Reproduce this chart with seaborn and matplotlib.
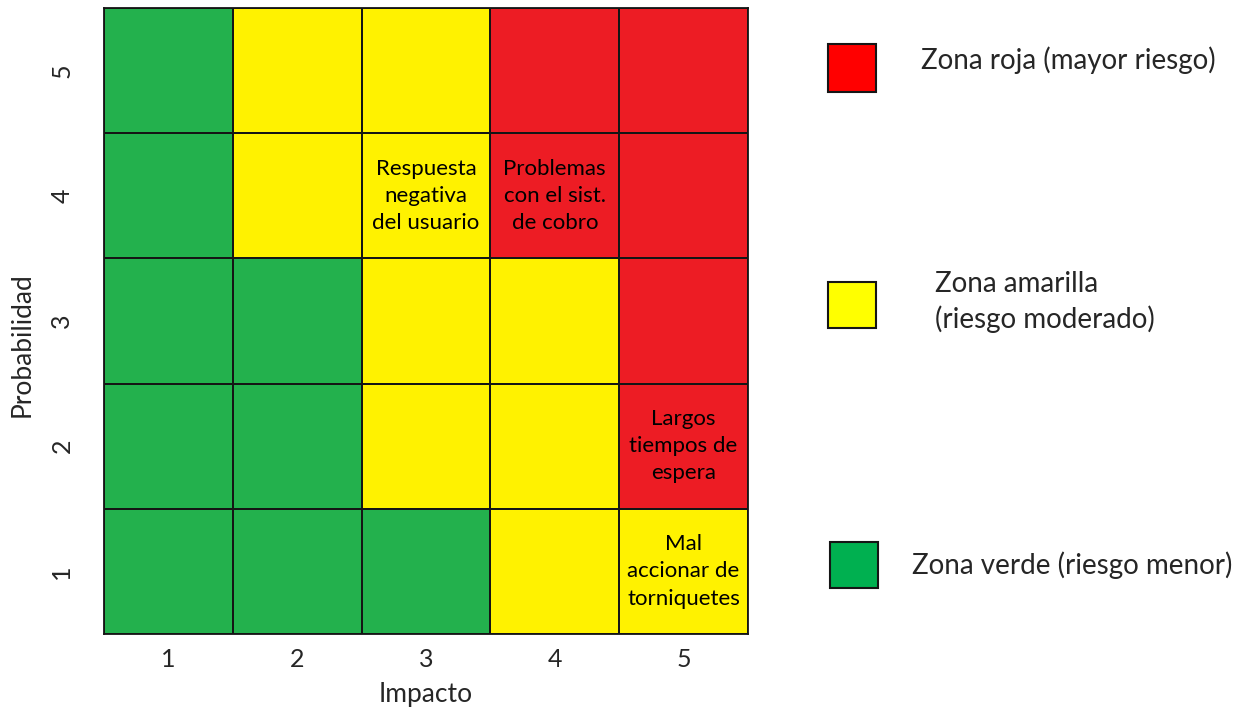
import numpy as np
import pandas as pd
import matplotlib
matplotlib.use("Agg")
import matplotlib.pyplot as plt
from matplotlib.colors import ListedColormap
from matplotlib.patches import Rectangle
import seaborn as sns

# Data
impacto = [1, 2, 3, 4, 5]
probabilidad = [5, 4, 3, 2, 1]  # top to bottom
# zone codes: 0 = verde, 1 = amarilla, 2 = roja
zona_p5 = [0, 1, 1, 2, 2]
zona_p4 = [0, 1, 1, 2, 2]
zona_p3 = [0, 0, 1, 1, 2]
zona_p2 = [0, 0, 1, 1, 2]
zona_p1 = [0, 0, 0, 1, 1]

riesgos = ["Respuesta\nnegativa\ndel usuario", "Problemas\ncon el sist.\nde cobro",
           "Largos\ntiempos de\nespera", "Mal\naccionar de\ntorniquetes"]
riesgo_impacto = [3, 4, 5, 5]
riesgo_prob = [4, 4, 2, 1]

leyenda_textos = ["Zona roja (mayor riesgo)", "Zona amarilla\n(riesgo moderado)", "Zona verde (riesgo menor)"]
leyenda_colores = ["#FF0000", "#FFFF00", "#00B050"]

cell_colors = ["#23B14D", "#FFF200", "#ED1C24"]

sns.set_style("white")
plt.rcParams['font.family'] = ['Lato', 'DejaVu Sans']

df = pd.DataFrame([zona_p5, zona_p4, zona_p3, zona_p2, zona_p1],
                  index=probabilidad, columns=impacto)

fig = plt.figure(figsize=(12.5, 7.09), dpi=100)
ax = fig.add_axes([104/1250, 1-634/709, (748-104)/1250, (634-8)/709])

sns.heatmap(df, ax=ax, cmap=ListedColormap(cell_colors), vmin=-0.5, vmax=2.5,
            cbar=False, linewidths=1.2, linecolor="#151515", square=False)

for spine in ax.spines.values():
    spine.set_visible(True)
    spine.set_color("#151515")
    spine.set_linewidth(1.3)

ax.tick_params(axis='both', length=0, labelsize=18)
ax.tick_params(axis='x', pad=10)
ax.tick_params(axis='y', pad=22)
ax.set_xticklabels([str(v) for v in impacto], rotation=0)
ax.set_yticklabels([str(v) for v in probabilidad], rotation=90, va='center')
ax.set_xlabel("Impacto", fontsize=19, labelpad=8)
ax.set_ylabel("Probabilidad", fontsize=19)
ax.yaxis.set_label_coords(-0.108, 0.462)

for txt, ix, pr in zip(riesgos, riesgo_impacto, riesgo_prob):
    col = impacto.index(ix)
    row = probabilidad.index(pr)
    ax.text(col + 0.5, row + 0.5, txt, ha='center', va='center', fontsize=16,
            color='black', linespacing=1.45)

# Legend squares
sq = [(828, 44, 48, 48), (828, 282, 48, 46), (830, 542, 48, 46)]
txt_pos = [(921, 60), (935, 302), (912, 565)]
for (x, y, w, h), color, t, (tx, ty) in zip(sq, leyenda_colores, leyenda_textos, txt_pos):
    fig.patches.append(Rectangle((x/1250, 1-(y+h)/709), w/1250, h/709,
                                 transform=fig.transFigure, facecolor=color,
                                 edgecolor="#151515", linewidth=1.5))
    fig.text(tx/1250, 1-ty/709, t, ha='left', va='center', fontsize=20,
             linespacing=1.35)

fig.savefig("out.png", dpi=100)
